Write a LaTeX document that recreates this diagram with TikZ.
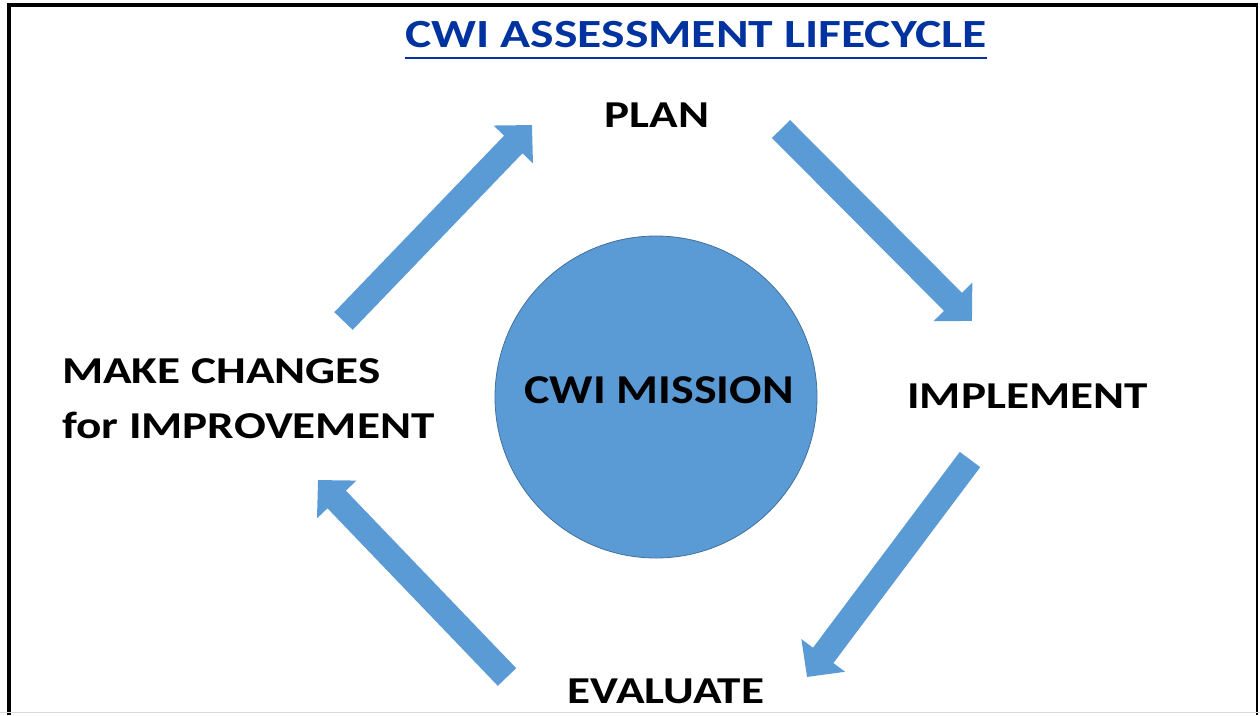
\documentclass[tikz,border=0pt]{standalone}
\usepackage{fontspec}
\setmainfont{Carlito}
\newfontfamily\widefont[FakeStretch=1.24]{Carlito}
\newfontfamily\missionfont[FakeStretch=1.17]{Carlito}
\usetikzlibrary{arrows.meta}
\definecolor{cwiblue}{HTML}{5B9BD5}
\definecolor{cwiedge}{HTML}{41719C}
\definecolor{titleblue}{HTML}{0033A0}
\tikzset{
  stage/.style={font=\widefont\bfseries\fontsize{38}{55}\selectfont, inner sep=0pt},
  fatarrow/.style={line width=25.5pt, cwiblue, -{Triangle[length=27pt,width=53pt]}}
}

\begin{document}
\begin{tikzpicture}[x=1pt,y=-1pt]
	\useasboundingbox (0,0) rectangle (1260,715);
	%% frame of the slide
	\draw[line width=4pt] (9,715) -- (9,5) -- (1258,5);
	\draw[line width=1.5pt] (1257,5) -- (1257,715);
	\draw[line width=1.5pt, black!15] (0,712.5) -- (1260,712.5);
	%% title, underlined by hand
	\node[titleblue, font=\widefont\bfseries\fontsize{40}{48}\selectfont, inner sep=0pt, anchor=base west] (title) at (405,47) {CWI ASSESSMENT LIFECYCLE\ };
	\draw[titleblue, line width=2pt] ([yshift=-11pt]title.base west) -- ([yshift=-11pt]title.base east);
	%% the mission in the middle
	\draw[fill=cwiblue, draw=cwiedge, line width=0.8pt] (656,397) circle (161);
	\node[stage, font=\missionfont\bfseries\fontsize{41}{48}\selectfont, anchor=base] (mission) at (659,403) {CWI MISSION};
	%% the four steps
	\node[stage, anchor=base] (plan) at (657,127) {PLAN};
	\node[stage, anchor=base] (implement) at (1027.5,408) {IMPLEMENT};
	\node[stage, anchor=base] (evaluate) at (666,703) {EVALUATE};
	\node[stage, anchor=west, align=left] (change) at (62,399) {MAKE CHANGES\\for IMPROVEMENT};
	%% ends of the big arrows
	\coordinate (a1) at (781,129);   \coordinate (b1) at (972,321);
	\coordinate (a2) at (970,459.5); \coordinate (b2) at (807,677);
	\coordinate (a3) at (507,677);   \coordinate (b3) at (318,480);
	\coordinate (a4) at (343.5,321); \coordinate (b4) at (532,125);
	\draw[fatarrow] (a1) -- (b1);
	\draw[fatarrow] (a2) -- (b2);
	\draw[fatarrow] (a3) -- (b3);
	\draw[fatarrow] (a4) -- (b4);
\end{tikzpicture}
\end{document}
